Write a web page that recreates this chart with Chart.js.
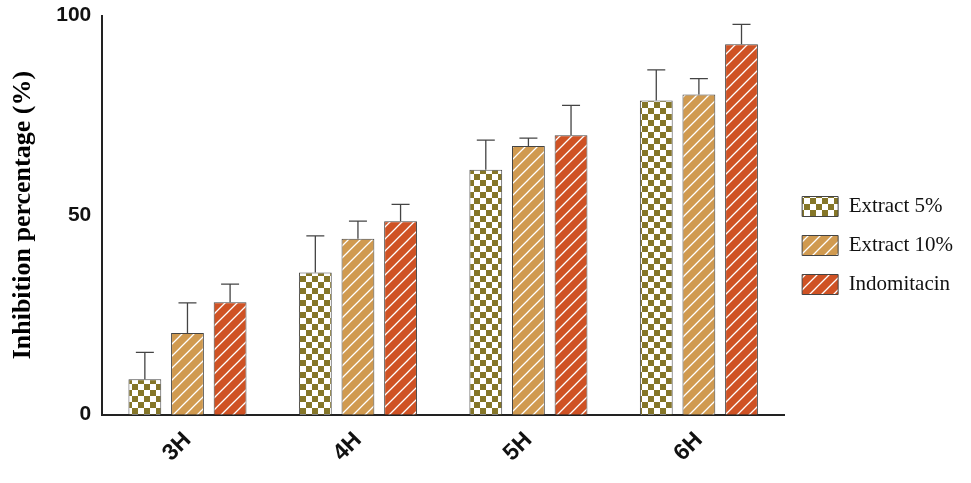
<!DOCTYPE html>
<html><head><meta charset="utf-8">
<script src="https://cdn.jsdelivr.net/npm/chart.js@4/dist/chart.umd.min.js"></script>
<style>html,body{margin:0;background:#fff}#w{width:971px;height:483px}</style></head>
<body><div id="w"><canvas id="c"></canvas></div>
<script>
const categories=["3H","4H","5H","6H"];
const seriesNames=["Extract 5%","Extract 10%","Indomitacin"];
const extract5=[8.9,35.6,61.4,78.7];
const extract10=[20.5,44.1,67.3,80.2];
const indomitacin=[28.2,48.5,70.0,92.8];
const err5=[6.7,9.2,7.4,7.7];
const err10=[7.5,4.4,2.0,4.0];
const errIndo=[4.5,4.2,7.5,5.0];
const yTicks=[0,50,100];

function mk(draw){const c=document.createElement('canvas');c.width=c.height=12;const g=c.getContext('2d');draw(g);return g.createPattern(c,'repeat');}
const pCheck=mk(g=>{g.fillStyle='#fff';g.fillRect(0,0,12,12);g.fillStyle='#857628';g.fillRect(0,0,6,6);g.fillRect(6,6,6,6);});
function stripe(col){return mk(g=>{g.fillStyle=col;g.fillRect(0,0,12,12);g.strokeStyle='#fff';g.lineWidth=1.3;g.beginPath();g.moveTo(0,12);g.lineTo(12,0);g.moveTo(-6,6);g.lineTo(6,-6);g.moveTo(6,18);g.lineTo(18,6);g.stroke();});}
const pTan=stripe('#d09a50'), pRed=stripe('#cf5224');

const errs=[err5,err10,errIndo];
const errPlugin={id:'err',afterDatasetsDraw(ch){const ctx=ch.ctx;ctx.save();ctx.strokeStyle='#444';ctx.lineWidth=1.3;
 ch.data.datasets.forEach((ds,i)=>{ch.getDatasetMeta(i).data.forEach((b,j)=>{const y1=ch.scales.y.getPixelForValue(ds.data[j]+errs[i][j]);const x=b.x;
 ctx.beginPath();ctx.moveTo(x,b.y);ctx.lineTo(x,y1);ctx.moveTo(x-9,y1);ctx.lineTo(x+9,y1);ctx.stroke();});});ctx.restore();}};

new Chart(document.getElementById('c'),{type:'bar',
data:{labels:categories,datasets:[
{label:seriesNames[0],data:extract5,backgroundColor:pCheck,borderColor:'#444',borderWidth:1},
{label:seriesNames[1],data:extract10,backgroundColor:pTan,borderColor:'#444',borderWidth:1},
{label:seriesNames[2],data:indomitacin,backgroundColor:pRed,borderColor:'#444',borderWidth:1}]},
options:{responsive:true,maintainAspectRatio:false,animation:false,
layout:{padding:{top:12,right:8,bottom:4,left:4}},
categoryPercentage:0.75,barPercentage:0.77,
plugins:{tooltip:{enabled:false},legend:{position:'right',align:'center',
 labels:{boxWidth:36,boxHeight:20,padding:18,color:'#111',font:{family:'Liberation Serif',size:21}}}},
scales:{
x:{grid:{display:false,drawTicks:false},border:{color:'#222',width:2},
 ticks:{color:'#111',maxRotation:45,minRotation:45,font:{family:'Liberation Sans',size:23,weight:'bold'},padding:12}},
y:{min:0,max:100,afterBuildTicks:a=>{a.ticks=yTicks.map(v=>({value:v}));},
 grid:{display:false,drawTicks:true,tickLength:8,tickColor:'#222'},border:{color:'#222',width:2},
 ticks:{color:'#111',font:{family:'Liberation Sans',size:21,weight:'bold'}},
 title:{display:true,text:'Inhibition percentage (%)',color:'#000',padding:{bottom:14},font:{family:'Liberation Serif',size:26,weight:'bold'}}}}},
plugins:[errPlugin]});
</script></body></html>
